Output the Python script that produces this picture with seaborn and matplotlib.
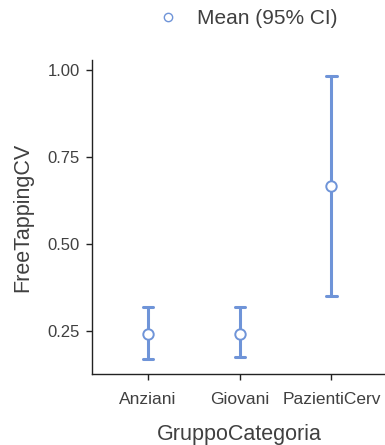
import matplotlib
matplotlib.use("Agg")
import matplotlib.pyplot as plt
from matplotlib.lines import Line2D
import numpy as np
import pandas as pd
import seaborn as sns

# Group means of FreeTappingCV with their 95% confidence limits
groups = ["Anziani", "Giovani", "PazientiCerv"]
means = [0.240, 0.240, 0.665]
ci_low = [0.169, 0.174, 0.351]
ci_high = [0.318, 0.318, 0.982]
y_ticks = [0.25, 0.50, 0.75, 1.00]

# Long table: each group carries its lower limit, mean and upper limit,
# so the median is the mean and the min/max span the interval.
df = pd.DataFrame({
    "GruppoCategoria": np.repeat(groups, 3),
    "FreeTappingCV": np.ravel(np.column_stack([ci_low, means, ci_high])),
})

sns.set_theme(style="ticks")
plt.rcParams["font.family"] = ["Liberation Sans", "DejaVu Sans"]

blue = "#6f94d8"
text_col = "#404040"

fig = plt.figure(figsize=(3.85, 4.45), dpi=100)
ax = fig.add_axes([0.239, 0.16, 0.765, 0.705])

sns.pointplot(
    data=df, x="GruppoCategoria", y="FreeTappingCV",
    order=groups,
    estimator="median",
    errorbar=lambda v: (v.min(), v.max()),
    capsize=0.11,
    linestyle="none",
    marker="o",
    color=blue,
    markersize=7.5,
    markerfacecolor="white",
    markeredgecolor=blue,
    markeredgewidth=1.4,
    err_kws={"linewidth": 2.2, "color": blue},
    ax=ax,
)

# keep the white-filled mean markers above the interval lines
for line in ax.lines:
    if line.get_marker() not in (None, "None", "", " "):
        line.set_zorder(5)

ax.set_xlim(-0.61, 2.6)
ax.set_ylim(0.127, 1.028)
ax.set_yticks(y_ticks)
ax.set_yticklabels([f"{t:.2f}" for t in y_ticks])

sns.despine(ax=ax)
for side in ("left", "bottom"):
    ax.spines[side].set_color("#222222")
    ax.spines[side].set_linewidth(1.0)
ax.tick_params(axis="both", length=4, width=1, color="#222222",
               colors=text_col)
ax.tick_params(axis="x", labelsize=12.5, pad=9)
ax.tick_params(axis="y", labelsize=12, pad=5)

ax.set_xlabel("GruppoCategoria", fontsize=15.5, color=text_col, labelpad=12)
ax.set_ylabel("FreeTappingCV", fontsize=15.5, color=text_col, labelpad=10)

handle = Line2D([], [], linestyle="none", marker="o", markersize=6,
                markerfacecolor="white", markeredgecolor=blue,
                markeredgewidth=1.0)
fig.legend(handles=[handle], labels=["Mean (95% CI)"],
           loc="center", bbox_to_anchor=(0.64, 0.958), frameon=False,
           fontsize=15, labelcolor=text_col, handletextpad=0.8,
           handlelength=1.2)

fig.savefig("out.png", dpi=100)
